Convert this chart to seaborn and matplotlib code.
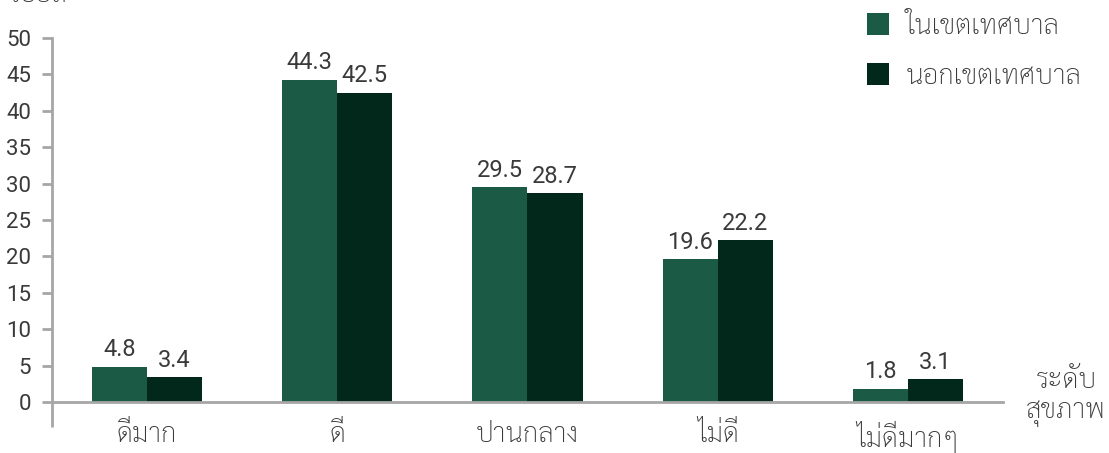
import numpy as np
import pandas as pd
import seaborn as sns
import matplotlib
matplotlib.use("Agg")
import matplotlib.pyplot as plt
from matplotlib.patches import Patch

levels = ['ดีมาก', 'ดี', 'ปานกลาง', 'ไม่ดี', 'ไม่ดีมากๆ']
areas = ['ในเขตเทศบาล', 'นอกเขตเทศบาล']
in_muni = [4.8, 44.3, 29.5, 19.6, 1.8]
out_muni = [3.4, 42.5, 28.7, 22.2, 3.1]
colors = ['#1b5a44', '#01281a']

df = pd.DataFrame({
    'level': levels * 2,
    'area': [areas[0]] * 5 + [areas[1]] * 5,
    'value': in_muni + out_muni,
})

sns.set_style('white')
plt.rcParams['font.family'] = ['Roboto', 'Sarabun', 'DejaVu Sans']
plt.rcParams['text.color'] = '#3a3a3a'
thai = ['Sarabun', 'DejaVu Sans']

fig = plt.figure(figsize=(11.09, 4.53), dpi=100)
ax = fig.add_axes([0.0469, 0.1126, 0.8575, 0.8035])

sns.barplot(data=df, x='level', y='value', hue='area', order=levels, hue_order=areas,
            palette=colors, width=0.58, saturation=1, legend=False, linewidth=0, ax=ax)

for cont in ax.containers:
    ax.bar_label(cont, fmt='%.1f', padding=4, fontsize=17, color='#3a3a3a')

ax.set_xlim(-0.5, 4.5)
ax.set_ylim(0, 50)
ax.set_yticks(np.arange(0, 51, 5))
ax.set_xlabel('')
ax.set_ylabel('')
for s in ['top', 'right']:
    ax.spines[s].set_visible(False)
for s in ['left', 'bottom']:
    ax.spines[s].set_color('#a6a6a6')
    ax.spines[s].set_linewidth(2)
ax.tick_params(axis='y', which='major', direction='out', length=7, width=2, pad=8,
               color='#a6a6a6', labelsize=16, labelcolor='#3a3a3a', left=True)
ax.tick_params(axis='x', which='major', length=0, pad=14, labelcolor='#3a3a3a')
for lab in ax.get_xticklabels():
    lab.set_family(thai)
    lab.set_fontsize(20)
    lab.set_fontweight('light')
ax.set_xticks([-0.5], minor=True)
ax.tick_params(axis='x', which='minor', direction='out', length=18, width=2,
               color='#a6a6a6', bottom=True)

fig.text(8 / 1109, 0.995, 'ร้อยละ', fontsize=20, family=thai, weight='light', va='baseline', ha='left')
fig.text(1066 / 1109, 1 - 381 / 453, 'ระดับ', fontsize=20, family=thai, weight='light',
         ha='center', va='center')
fig.text(1066 / 1109, 1 - 414 / 453, 'สุขภาพ', fontsize=20, family=thai, weight='light',
         ha='center', va='center')

handles = [Patch(facecolor=c, edgecolor='none') for c in colors]
leg = fig.legend(handles, areas, loc='upper left', bbox_to_anchor=(850 / 1109, 1.008),
                 frameon=False, prop={'family': thai, 'size': 20, 'weight': 'light'},
                 handlelength=0.8, handleheight=0.8,
                 handletextpad=0.6, labelspacing=0.85, borderaxespad=0.2)

fig.savefig('out.png', dpi=100)
